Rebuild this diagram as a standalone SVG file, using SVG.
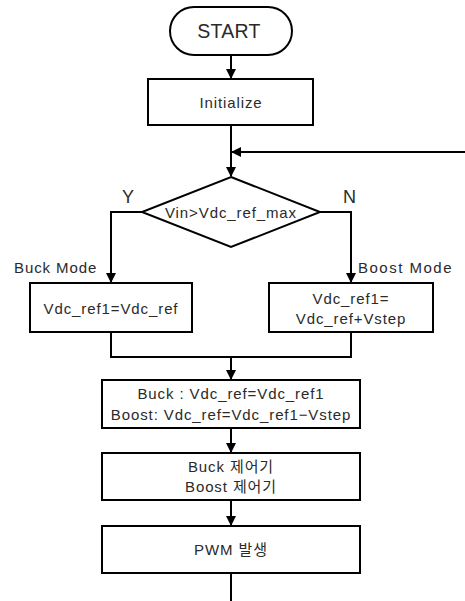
<svg xmlns="http://www.w3.org/2000/svg" width="465" height="601" viewBox="0 0 465 601">
<defs>
<marker id="ah" markerWidth="10" markerHeight="10" refX="9" refY="5" orient="auto" markerUnits="userSpaceOnUse">
<path d="M0,0 L10,5 L0,10 Z" fill="#000"/>
</marker>
<style>
.s{fill:#fff;stroke:#000;stroke-width:2}
.c{fill:none;stroke:#000;stroke-width:2}
.t{font-family:"Liberation Sans","Noto Sans CJK KR",sans-serif;font-size:15px;letter-spacing:0.9px;fill:#2a2a2a;text-anchor:middle}
.l{font-family:"Liberation Sans","Noto Sans CJK KR",sans-serif;font-size:15px;letter-spacing:0.9px;fill:#2a2a2a}
</style>
</defs>
<rect width="465" height="601" fill="#fff"/>
<g id="connectors">
<path class="c" d="M231,55 V78" marker-end="url(#ah)"/>
<path class="c" d="M231,125 V176" marker-end="url(#ah)"/>
<path class="c" d="M465,152 H232" marker-end="url(#ah)"/>
<path class="c" d="M142,212 H111 V282" marker-end="url(#ah)"/>
<path class="c" d="M320,212 H351 V282" marker-end="url(#ah)"/>
<path class="c" d="M111,332 V357 H351 V332"/>
<path class="c" d="M231,357 V379" marker-end="url(#ah)"/>
<path class="c" d="M231,428 V452" marker-end="url(#ah)"/>
<path class="c" d="M231,500 V525" marker-end="url(#ah)"/>
<path class="c" d="M231,573 V601"/>
</g>
<g id="start">
<rect class="s" x="170" y="7" width="122" height="48" rx="24"/>
<text class="t" x="229" y="38" style="font-size:19.5px;letter-spacing:0.3px">START</text>
</g>
<g id="init">
<rect class="s" x="148" y="79" width="165" height="46"/>
<text class="t" x="231" y="108">Initialize</text>
</g>
<g id="decision">
<path class="s" d="M231,177 L320,212 L231,247 L142,212 Z"/>
<text class="t" x="231" y="218">Vin&gt;Vdc_ref_max</text>
<text class="l" x="122" y="203" style="font-size:18px">Y</text>
<text class="l" x="343" y="203" style="font-size:18px">N</text>
</g>
<g id="buck">
<text class="l" x="14" y="273">Buck Mode</text>
<rect class="s" x="30" y="283" width="162" height="49"/>
<text class="t" x="111" y="314">Vdc_ref1=Vdc_ref</text>
</g>
<g id="boost">
<text class="l" x="358" y="273" style="letter-spacing:1.5px">Boost Mode</text>
<rect class="s" x="269" y="283" width="164" height="49"/>
<text class="t" x="351" y="304">Vdc_ref1=</text>
<text class="t" x="351" y="324">Vdc_ref+Vstep</text>
</g>
<g id="ref">
<rect class="s" x="102" y="380" width="258" height="48"/>
<text class="t" x="231" y="399">Buck : Vdc_ref=Vdc_ref1</text>
<text class="t" x="231" y="420">Boost: Vdc_ref=Vdc_ref1−Vstep</text>
</g>
<g id="ctrl">
<rect class="s" x="102" y="453" width="258" height="47"/>
<text class="t" x="231" y="472">Buck 제어기</text>
<text class="t" x="231" y="492">Boost 제어기</text>
</g>
<g id="pwm">
<rect class="s" x="102" y="526" width="258" height="47"/>
<text class="t" x="231" y="555">PWM 발생</text>
</g>
</svg>
